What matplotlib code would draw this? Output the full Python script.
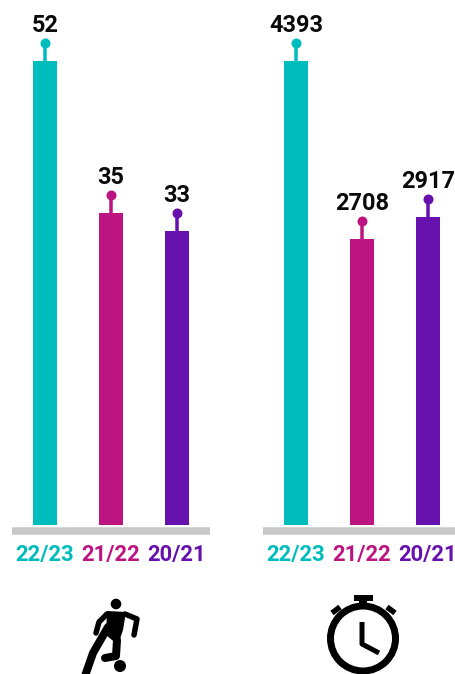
import matplotlib
matplotlib.use("Agg")
import matplotlib.pyplot as plt
from matplotlib.patches import Circle, Rectangle
from matplotlib.transforms import offset_copy

seasons = ["22/23", "21/22", "20/21"]
goals = [52, 35, 33]
minutes = [4393, 2708, 2917]
colors = ["#00BDBD", "#BC1480", "#6610AE"]

W, H = 456, 674
DPI = 100
BAR_BOTTOM = 525
BAR_TOP = 61


def px(v):
    return v * 72 / DPI


def draw_panel(fig, left, values):
    # 198 px wide panel, 66 px per category
    ax = fig.add_axes([left / W, 1 - BAR_BOTTOM / H, 198 / W, (BAR_BOTTOM - BAR_TOP) / H])
    ax.bar(range(3), values, width=24 / 66, color=colors)
    ax.set_xlim(-0.5, 2.5)
    ax.set_ylim(0, max(values))
    ax.patch.set_alpha(0)
    for name in ["top", "left", "right"]:
        ax.spines[name].set_visible(False)
    ax.spines["bottom"].set_position(("outward", px(6)))
    ax.spines["bottom"].set_linewidth(px(7.5))
    ax.spines["bottom"].set_color("#C8C8C8")
    ax.spines["bottom"].set_capstyle("butt")
    ax.set_yticks([])
    ax.set_xticks(range(3), seasons)
    ax.tick_params(axis="x", length=0, pad=px(13))
    for lab, c in zip(ax.get_xticklabels(), colors):
        lab.set_color(c)
        lab.set_fontsize(px(22))
        lab.set_fontweight("bold")
        lab.set_family(["Roboto"])

    # lollipop stem and value on top of each bar
    dot = offset_copy(ax.transData, fig=fig, x=0, y=px(18), units="points")
    for i, v in enumerate(values):
        ax.annotate("", xy=(i, v), xytext=(0, px(18)), textcoords="offset points",
                    arrowprops=dict(arrowstyle="-", color=colors[i], lw=px(3.5),
                                    shrinkA=0, shrinkB=0), annotation_clip=False)
        ax.plot([i], [v], "o", ms=px(10), color=colors[i], mew=0, transform=dot, clip_on=False)
        ax.annotate(str(v), xy=(i, v), xytext=(0, px(35)), textcoords="offset points",
                    ha="center", va="center", fontsize=px(23.5), fontweight="bold",
                    family=["Roboto"], color="#0A0A0A", annotation_clip=False)
    return ax


def draw_icons(fig):
    ax = fig.add_axes([0, 0, 1, 1], zorder=5)
    ax.set_xlim(0, W)
    ax.set_ylim(H, 0)
    ax.axis("off")
    k = "black"

    # player
    ax.add_patch(Circle((116, 604), 5.3, color=k, lw=0))
    ax.add_patch(Circle((120, 666), 6, color=k, lw=0))
    ax.fill([107, 126, 123, 118, 106], [611, 612, 630, 645, 635], color=k, lw=0)
    limbs = [
        ([107, 99, 96], [614, 622, 633], 5.5),
        ([125, 137, 134], [614, 619, 635], 5.5),
        ([108, 93, 85], [627, 653, 676], 8),
        ([117, 116, 105], [640, 656, 658], 8),
    ]
    for xs, ys, w in limbs:
        ax.plot(xs, ys, color=k, lw=px(w), solid_capstyle="round", solid_joinstyle="round")

    # stopwatch
    ax.add_patch(Circle((363, 638.5), 32.5, fill=False, ec=k, lw=px(7)))
    ax.add_patch(Rectangle((354, 595), 19, 5.5, color=k, lw=0))
    ax.add_patch(Rectangle((359, 600), 8, 6, color=k, lw=0))
    ax.plot([332, 340], [613, 607], color=k, lw=px(5.5), solid_capstyle="butt")
    ax.plot([387, 395], [607, 613], color=k, lw=px(5.5), solid_capstyle="butt")
    ax.plot([362, 362, 379], [622, 644, 653], color=k, lw=px(5), solid_capstyle="butt",
            solid_joinstyle="round")


fig = plt.figure(figsize=(W / DPI, H / DPI), dpi=DPI, facecolor="white")
draw_panel(fig, 12, goals)
draw_panel(fig, 263, minutes)
draw_icons(fig)
fig.savefig("out.png", dpi=DPI, facecolor="white")
plt.close(fig)
